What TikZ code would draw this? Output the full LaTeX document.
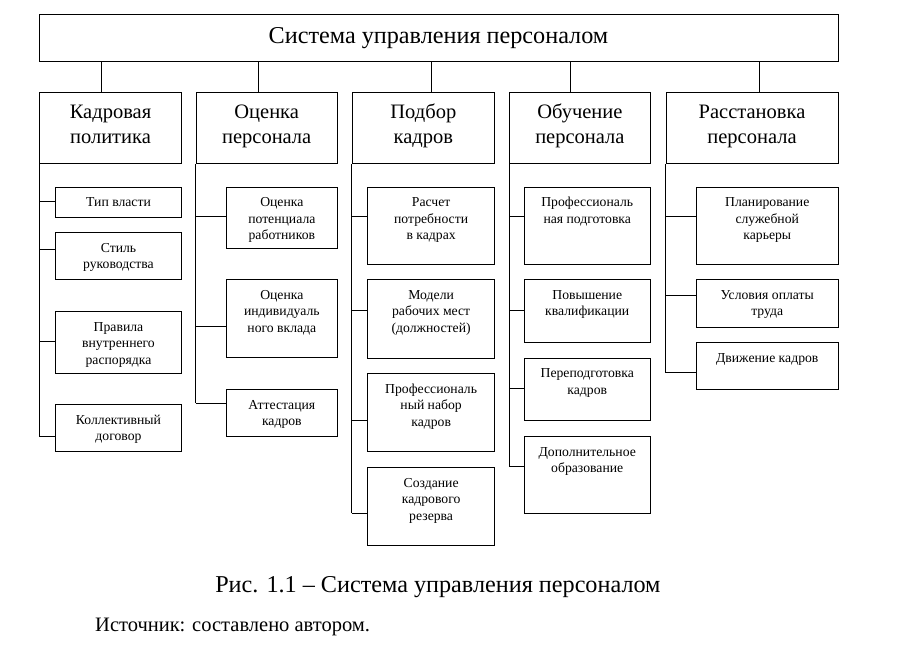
\documentclass[tikz,border=0pt]{standalone}
\usepackage{fontspec}
\setmainfont{Liberation Serif}
\newfontfamily\lserif{Liberation Serif}
\newcommand\subfnt{\lserif\fontsize{13.7}{16.3}\selectfont}
\newcommand\headfnt{\lserif\fontsize{20.5}{24.5}\selectfont}
\newcommand\titlefnt{\lserif\fontsize{24.2}{29}\selectfont}
\newcommand\srcfnt{\lserif\fontsize{20.5}{24.5}\selectfont}
\tikzset{
  box/.style={draw, line width=1pt, rectangle, inner sep=0pt},
  subtxt/.style={font=\subfnt, align=center, inner sep=0pt, anchor=north},
  headtxt/.style={font=\headfnt, align=center, inner sep=0pt, anchor=north},
  conn/.style={line width=1pt},
}
% box: name, x1, y1, x2, y2
\newcommand\bx[5]{\node[box, anchor=north west, minimum width={#4-#2}, minimum height={#5-#3}] (#1) at (#2,#3) {};}
% sub text in box
\newcommand\stx[2]{\node[subtxt] (#1t) at ([yshift=-8.6pt]#1.north) {\strut #2};}
\newcommand\htx[2]{\node[headtxt] (#1t) at ([yshift=-8.85pt]#1.north) {\strut #2};}
\begin{document}
\begin{tikzpicture}[x=1pt,y=-1pt]
\useasboundingbox (0,0) rectangle (903,654);
% title
\bx{top}{39.3}{14.3}{837.7}{61.3}
\node[font=\titlefnt, anchor=base, inner sep=0pt] (toptxt) at (438.5,43.3) {Система управления персоналом};
% categories
\bx{k1}{39.3}{92.3}{180.7}{163.3}
\bx{k2}{195.7}{92.3}{336.7}{163.3}
\bx{k3}{351.7}{92.3}{494}{163.3}
\bx{k4}{509.3}{92.3}{649.5}{163.3}
\bx{k5}{665.5}{92.3}{837.5}{163.3}
\htx{k1}{Кадровая\\политика}
\htx{k2}{Оценка\\персонала}
\htx{k3}{Подбор\\кадров}
\htx{k4}{Обучение\\персонала}
\htx{k5}{Расстановка\\персонала}
\draw[conn] (top.south -| 101.7,0) -- (k1.north -| 101.7,0);
\draw[conn] (top.south -| 258.7,0) -- (k2.north -| 258.7,0);
\draw[conn] (top.south -| 431,0) -- (k3.north -| 431,0);
\draw[conn] (top.south -| 570.7,0) -- (k4.north -| 570.7,0);
\draw[conn] (top.south -| 759.3,0) -- (k5.north -| 759.3,0);
% column 1
\bx{b11}{55.3}{186.7}{180.7}{217}
\bx{b12}{55.3}{232.3}{180.7}{279.3}
\bx{b13}{55.3}{311.3}{180.7}{373.3}
\bx{b14}{55.3}{404}{180.7}{451}
\stx{b11}{Тип власти}
\stx{b12}{Стиль\\руководства}
\stx{b13}{Правила\\внутреннего\\распорядка}
\stx{b14}{Коллективный\\договор}
\draw[conn] (k1.south west) -- (k1.south west |- 0,436);
\draw[conn] (k1.south west |- 0,201) -- (b11.west |- 0,201);
\draw[conn] (k1.south west |- 0,249) -- (b12.west |- 0,249);
\draw[conn] (k1.south west |- 0,341.7) -- (b13.west |- 0,341.7);
\draw[conn] (k1.south west |- 0,436) -- (b14.west |- 0,436);
% column 2
\bx{b21}{226}{186.7}{336.7}{248}
\bx{b22}{226}{279.3}{336.7}{357.3}
\bx{b23}{226}{389.3}{336.7}{436}
\stx{b21}{Оценка\\потенциала\\работников}
\stx{b22}{Оценка\\индивидуаль\\ного вклада}
\stx{b23}{Аттестация\\кадров}
\draw[conn] (k2.south west) -- (k2.south west |- 0,403.3);
\draw[conn] (k2.south west |- 0,216.7) -- (b21.west |- 0,216.7);
\draw[conn] (k2.south west |- 0,326.7) -- (b22.west |- 0,326.7);
\draw[conn] (k2.south west |- 0,403.3) -- (b23.west |- 0,403.3);
% column 3
\bx{b31}{367.3}{186.7}{494}{264}
\bx{b32}{367.3}{279.3}{494}{357.7}
\bx{b33}{367.3}{373.3}{494}{451}
\bx{b34}{367.3}{467.3}{494}{545}
\stx{b31}{Расчет\\потребности\\в кадрах}
\stx{b32}{Модели\\рабочих мест\\(должностей)}
\stx{b33}{Профессиональ\\ный набор\\кадров}
\stx{b34}{Создание\\кадрового\\резерва}
\draw[conn] (k3.south west) -- (k3.south west |- 0,513.3);
\draw[conn] (k3.south west |- 0,216.7) -- (b31.west |- 0,216.7);
\draw[conn] (k3.south west |- 0,310.3) -- (b32.west |- 0,310.3);
\draw[conn] (k3.south west |- 0,420.7) -- (b33.west |- 0,420.7);
\draw[conn] (k3.south west |- 0,513.3) -- (b34.west |- 0,513.3);
% column 4
\bx{b41}{524}{186.7}{649.5}{264}
\bx{b42}{524}{279.3}{649.5}{342.3}
\bx{b43}{524}{357.7}{649.5}{420}
\bx{b44}{524}{436}{649.5}{513.3}
\stx{b41}{Профессиональ\\ная подготовка}
\stx{b42}{Повышение\\квалификации}
\stx{b43}{Переподготовка\\кадров}
\stx{b44}{Дополнительное\\образование}
\draw[conn] (k4.south west) -- (k4.south west |- 0,466.7);
\draw[conn] (k4.south west |- 0,216.7) -- (b41.west |- 0,216.7);
\draw[conn] (k4.south west |- 0,310) -- (b42.west |- 0,310);
\draw[conn] (k4.south west |- 0,388.3) -- (b43.west |- 0,388.3);
\draw[conn] (k4.south west |- 0,466.7) -- (b44.west |- 0,466.7);
% column 5
\bx{b51}{696}{186.7}{837.5}{264}
\bx{b52}{696}{279.3}{837.5}{326.7}
\bx{b53}{696}{342.3}{837.5}{389.3}
\stx{b51}{Планирование\\служебной\\карьеры}
\stx{b52}{Условия оплаты\\труда}
\stx{b53}{Движение кадров}
\draw[conn] (k5.south west) -- (k5.south west |- 0,372.7);
\draw[conn] (k5.south west |- 0,216.7) -- (b51.west |- 0,216.7);
\draw[conn] (k5.south west |- 0,295) -- (b52.west |- 0,295);
\draw[conn] (k5.south west |- 0,372.7) -- (b53.west |- 0,372.7);
% caption
\node[font=\titlefnt, anchor=base, inner sep=0pt] (cap) at (437.9,592.3) {Рис. 1.1 – Система управления персоналом};
\node[font=\srcfnt, anchor=base west, inner sep=0pt] (src) at (95,631) {Источник: составлено автором.};
\end{tikzpicture}
\end{document}
